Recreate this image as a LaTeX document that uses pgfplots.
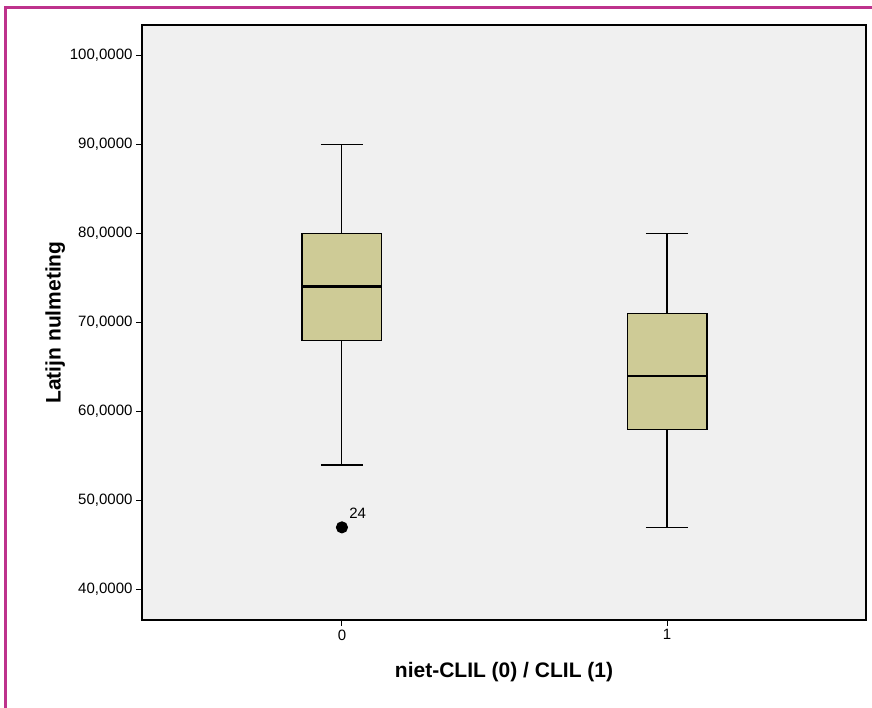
\documentclass[border=0pt]{standalone}
\usepackage{pgfplots}
\pgfplotsset{compat=1.18}
\usepgfplotslibrary{statistics}
\usepackage{fontspec}
\setmainfont{Liberation Sans}
\definecolor{boxfill}{RGB}{206,203,150}
\definecolor{bg}{RGB}{240,240,240}
\definecolor{framecol}{RGB}{190,50,140}
\begin{document}
\begin{tikzpicture}
\path[use as bounding box] (0,0) rectangle (872pt,708pt);
\draw[framecol, line width=3pt] (5pt,0) -- (5pt,700pt) -- (872pt,700pt);
\begin{axis}[
  at={(142pt,88pt)}, anchor=south west,
  scale only axis, width=724pt, height=595pt,
  xmin=-0.615, xmax=1.612, ymin=36.6, ymax=103.4,
  axis background/.style={fill=bg},
  xtick={0,1}, xticklabels={0,1},
  ytick={40,50,60,70,80,90,100},
  yticklabels={{40,0000},{50,0000},{60,0000},{70,0000},{80,0000},{90,0000},{100,0000}},
  tick align=outside, tick pos=left, major tick length=6pt,
  tick style={black, line width=1pt},
  axis line style={black, line width=1.2pt},
  ticklabel style={font=\fontsize{15}{17}\selectfont},
  xlabel={niet-CLIL (0) / CLIL (1)},
  ylabel={Latijn nulmeting},
  label style={font=\bfseries\fontsize{21}{24}\selectfont},
  ylabel style={at={(axis description cs:-0.12,0.5)}, anchor=center},
  xlabel style={at={(axis description cs:0.5,-0.087)}, anchor=center},
  boxplot/draw direction=y,
  boxplot/every median/.style={line width=2.8pt},
]
\addplot[boxplot prepared={draw position=0, lower whisker=54, lower quartile=68,
  median=74, upper quartile=80, upper whisker=90, box extend=0.246, whisker extend=0.13},
  fill=boxfill, draw=black, line width=1.1pt,
  mark=*, mark size=5.5pt, mark options={fill=black, draw=black}]
  coordinates {(0,47)};
\addplot[boxplot prepared={draw position=1, lower whisker=47, lower quartile=58,
  median=64, upper quartile=71, upper whisker=80, box extend=0.246, whisker extend=0.13},
  fill=boxfill, draw=black, line width=1.1pt]
  coordinates {};
\node[anchor=base west, font=\fontsize{15}{17}\selectfont] at (axis cs:0.012,48.0) {24};
\end{axis}
\end{tikzpicture}
\end{document}
